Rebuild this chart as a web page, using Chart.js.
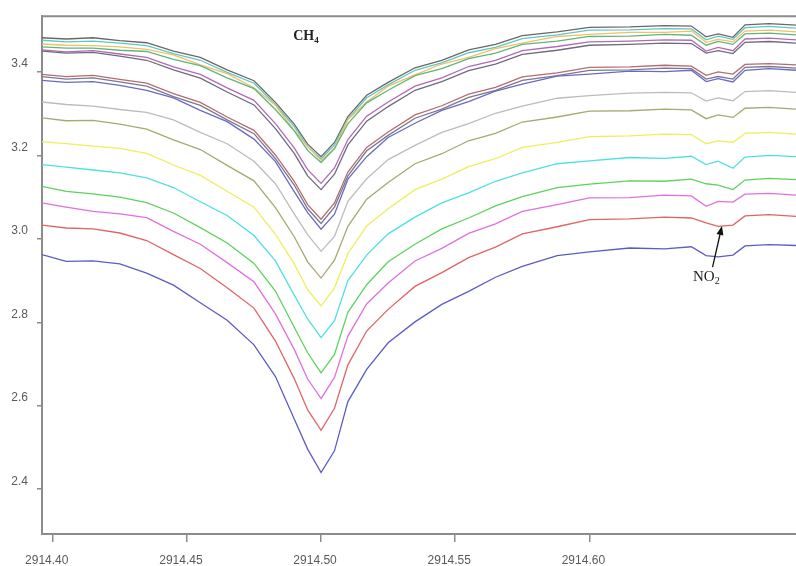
<!DOCTYPE html>
<html>
<head>
<meta charset="utf-8">
<script src="https://cdn.jsdelivr.net/npm/chart.js@4.4.0/dist/chart.umd.min.js"></script>
<style>
  html, body { margin: 0; padding: 0; background: #fff; }
  #wrap { width: 796px; height: 566px; position: relative; }
</style>
</head>
<body>
<div id="wrap"><canvas id="spectrum"></canvas></div>
<script>
var ctx = document.getElementById('spectrum').getContext('2d');

/* wavenumber grid (cm-1) */
const waveNumbers = [2914.396, 2914.405, 2914.415, 2914.425, 2914.435, 2914.445, 2914.455, 2914.465, 2914.475, 2914.483, 2914.490, 2914.495, 2914.500, 2914.505, 2914.510, 2914.517, 2914.525, 2914.535, 2914.545, 2914.555, 2914.565, 2914.575, 2914.588, 2914.600, 2914.615, 2914.628, 2914.638, 2914.6435, 2914.648, 2914.6535, 2914.658, 2914.667, 2914.677];

/* spectra, bottom to top */
const curveBlue = [2.962, 2.946, 2.947, 2.940, 2.918, 2.889, 2.847, 2.805, 2.746, 2.670, 2.568, 2.496, 2.440, 2.492, 2.610, 2.687, 2.751, 2.801, 2.843, 2.874, 2.908, 2.934, 2.960, 2.969, 2.978, 2.976, 2.981, 2.960, 2.957, 2.961, 2.983, 2.986, 2.984];
const curveRed = [3.033, 3.026, 3.024, 3.014, 2.996, 2.962, 2.929, 2.883, 2.834, 2.755, 2.665, 2.590, 2.541, 2.594, 2.698, 2.779, 2.831, 2.886, 2.919, 2.955, 2.980, 3.012, 3.029, 3.046, 3.048, 3.052, 3.050, 3.038, 3.030, 3.033, 3.055, 3.058, 3.054];
const curveMagenta = [3.086, 3.076, 3.066, 3.060, 3.051, 3.018, 2.987, 2.943, 2.897, 2.820, 2.735, 2.664, 2.617, 2.668, 2.767, 2.844, 2.894, 2.947, 2.977, 3.013, 3.036, 3.066, 3.082, 3.098, 3.099, 3.105, 3.103, 3.078, 3.090, 3.088, 3.107, 3.109, 3.105];
const curveGreen = [3.126, 3.114, 3.108, 3.100, 3.087, 3.062, 3.027, 2.990, 2.941, 2.875, 2.788, 2.727, 2.679, 2.723, 2.824, 2.890, 2.945, 2.987, 3.024, 3.050, 3.079, 3.101, 3.123, 3.131, 3.139, 3.138, 3.143, 3.132, 3.129, 3.118, 3.141, 3.145, 3.142];
const curveCyan = [3.178, 3.172, 3.165, 3.158, 3.146, 3.123, 3.089, 3.056, 3.008, 2.947, 2.865, 2.808, 2.763, 2.804, 2.900, 2.961, 3.012, 3.052, 3.086, 3.110, 3.138, 3.158, 3.180, 3.187, 3.195, 3.193, 3.198, 3.178, 3.186, 3.169, 3.196, 3.200, 3.197];
const curveYellow = [3.233, 3.228, 3.222, 3.217, 3.205, 3.177, 3.152, 3.114, 3.076, 3.011, 2.940, 2.878, 2.839, 2.882, 2.965, 3.031, 3.072, 3.118, 3.143, 3.173, 3.192, 3.219, 3.231, 3.245, 3.247, 3.251, 3.250, 3.228, 3.235, 3.231, 3.253, 3.255, 3.251];
const curveOlive = [3.290, 3.283, 3.284, 3.275, 3.263, 3.237, 3.214, 3.176, 3.139, 3.075, 3.005, 2.945, 2.906, 2.949, 3.030, 3.095, 3.135, 3.180, 3.204, 3.235, 3.253, 3.280, 3.292, 3.306, 3.307, 3.311, 3.309, 3.288, 3.297, 3.291, 3.313, 3.315, 3.311];
const curveGray = [3.328, 3.322, 3.318, 3.310, 3.303, 3.285, 3.255, 3.228, 3.186, 3.132, 3.060, 3.010, 2.970, 3.006, 3.090, 3.144, 3.190, 3.224, 3.255, 3.276, 3.301, 3.318, 3.337, 3.343, 3.349, 3.351, 3.350, 3.330, 3.338, 3.331, 3.353, 3.355, 3.351];
const curveBlue2 = [3.380, 3.375, 3.377, 3.368, 3.356, 3.338, 3.308, 3.281, 3.239, 3.185, 3.113, 3.063, 3.023, 3.059, 3.143, 3.197, 3.243, 3.277, 3.308, 3.329, 3.354, 3.371, 3.390, 3.395, 3.402, 3.401, 3.404, 3.377, 3.384, 3.376, 3.404, 3.408, 3.404];
const curveSlate = [3.389, 3.383, 3.386, 3.376, 3.366, 3.341, 3.320, 3.285, 3.252, 3.192, 3.129, 3.072, 3.037, 3.076, 3.151, 3.211, 3.248, 3.289, 3.311, 3.339, 3.356, 3.380, 3.391, 3.404, 3.405, 3.409, 3.408, 3.383, 3.389, 3.383, 3.411, 3.413, 3.409];
const curveBrown = [3.394, 3.389, 3.392, 3.382, 3.373, 3.348, 3.327, 3.292, 3.260, 3.201, 3.138, 3.082, 3.047, 3.086, 3.160, 3.219, 3.256, 3.297, 3.319, 3.347, 3.363, 3.388, 3.398, 3.411, 3.412, 3.416, 3.414, 3.392, 3.400, 3.395, 3.418, 3.420, 3.417];
const curveDarkGray2 = [3.450, 3.445, 3.447, 3.438, 3.428, 3.405, 3.385, 3.352, 3.321, 3.264, 3.205, 3.151, 3.118, 3.155, 3.225, 3.282, 3.317, 3.356, 3.377, 3.403, 3.419, 3.442, 3.452, 3.464, 3.466, 3.469, 3.468, 3.445, 3.451, 3.444, 3.471, 3.473, 3.469];
const curvePurple = [3.453, 3.448, 3.451, 3.443, 3.435, 3.412, 3.394, 3.362, 3.332, 3.276, 3.218, 3.166, 3.133, 3.170, 3.238, 3.294, 3.328, 3.366, 3.386, 3.413, 3.428, 3.451, 3.461, 3.472, 3.474, 3.477, 3.476, 3.450, 3.459, 3.451, 3.479, 3.481, 3.477];
const curveGreen2 = [3.460, 3.457, 3.457, 3.452, 3.449, 3.430, 3.415, 3.386, 3.360, 3.310, 3.259, 3.212, 3.183, 3.216, 3.276, 3.326, 3.356, 3.391, 3.408, 3.432, 3.445, 3.466, 3.474, 3.485, 3.486, 3.490, 3.488, 3.464, 3.473, 3.466, 3.491, 3.493, 3.489];
const curveOrange = [3.467, 3.464, 3.463, 3.460, 3.454, 3.441, 3.417, 3.396, 3.362, 3.320, 3.260, 3.221, 3.188, 3.217, 3.286, 3.328, 3.366, 3.393, 3.419, 3.435, 3.456, 3.469, 3.485, 3.490, 3.495, 3.495, 3.498, 3.471, 3.478, 3.472, 3.498, 3.500, 3.496];
const curveTeal = [3.476, 3.472, 3.474, 3.469, 3.463, 3.444, 3.428, 3.399, 3.373, 3.322, 3.269, 3.221, 3.192, 3.225, 3.287, 3.338, 3.369, 3.404, 3.422, 3.446, 3.459, 3.480, 3.489, 3.500, 3.501, 3.504, 3.503, 3.477, 3.486, 3.478, 3.506, 3.509, 3.505];
const curveDarkGray = [3.482, 3.479, 3.482, 3.475, 3.470, 3.450, 3.435, 3.405, 3.379, 3.327, 3.275, 3.227, 3.197, 3.231, 3.293, 3.344, 3.375, 3.410, 3.428, 3.453, 3.466, 3.487, 3.496, 3.507, 3.508, 3.511, 3.510, 3.484, 3.491, 3.483, 3.513, 3.516, 3.512];

const xTicks = [2914.40, 2914.45, 2914.50, 2914.55, 2914.60];
const yTicks = [2.4, 2.6, 2.8, 3.0, 3.2, 3.4];

const allCurves = [curveBlue, curveRed, curveMagenta, curveGreen, curveCyan, curveYellow, curveOlive, curveGray,
  curveBlue2, curveSlate, curveBrown, curveDarkGray2, curvePurple, curveGreen2, curveOrange, curveTeal, curveDarkGray];
const colors = ['#5c5cc8', '#e06464', '#e070e0', '#5ed25e', '#4ee0e0', '#eeee5a', '#a8a870', '#bcbcbc',
  '#6a6ac4', '#7a7890', '#b46c70', '#6c6c7c', '#b468b8', '#62b47a', '#f0c066', '#62c6c6', '#686868'];

// label anchors in data units
const ch4Pos = { x: 2914.4896, y: 3.476 };
const no2Pos = { x: 2914.6386, y: 2.899 };
const arrowFrom = { x: 2914.6459, y: 2.932 };
const arrowTo = { x: 2914.6494, y: 3.031 };

const datasets = allCurves.map(function (c, i) {
  return {
    data: c.map(function (v, j) { return { x: waveNumbers[j], y: v }; }),
    borderColor: colors[i],
    borderWidth: 1.3,
    pointRadius: 0,
    tension: 0,
    fill: false
  };
});

const decorations = {
  id: 'decorations',
  afterDraw: function (chart) {
    const c = chart.ctx, a = chart.chartArea, xs = chart.scales.x, ys = chart.scales.y;
    c.save();
    // top frame line
    c.strokeStyle = '#8c8c8c';
    c.lineWidth = 2;
    c.beginPath();
    c.moveTo(a.left, a.top);
    c.lineTo(a.right, a.top);
    c.stroke();

    c.fillStyle = '#222';
    c.textBaseline = 'alphabetic';
    // CH4
    let px = xs.getPixelForValue(ch4Pos.x), py = ys.getPixelForValue(ch4Pos.y);
    c.font = 'bold 14px "Liberation Serif"';
    c.fillText('CH', px, py);
    let w = c.measureText('CH').width;
    c.font = 'bold 9px "Liberation Serif"';
    c.fillText('4', px + w, py + 3);
    // NO2
    px = xs.getPixelForValue(no2Pos.x); py = ys.getPixelForValue(no2Pos.y);
    c.font = '15px "Liberation Serif"';
    c.fillText('NO', px, py);
    w = c.measureText('NO').width;
    c.font = '10px "Liberation Serif"';
    c.fillText('2', px + w, py + 3);

    // arrow
    const x1 = xs.getPixelForValue(arrowFrom.x), y1 = ys.getPixelForValue(arrowFrom.y);
    const x2 = xs.getPixelForValue(arrowTo.x), y2 = ys.getPixelForValue(arrowTo.y);
    const ang = Math.atan2(y2 - y1, x2 - x1);
    c.strokeStyle = '#111';
    c.lineWidth = 1.3;
    c.beginPath();
    c.moveTo(x1, y1);
    c.lineTo(x2 - 6 * Math.cos(ang), y2 - 6 * Math.sin(ang));
    c.stroke();
    c.beginPath();
    c.moveTo(x2, y2);
    c.lineTo(x2 - 9 * Math.cos(ang) + 3.5 * Math.sin(ang), y2 - 9 * Math.sin(ang) - 3.5 * Math.cos(ang));
    c.lineTo(x2 - 9 * Math.cos(ang) - 3.5 * Math.sin(ang), y2 - 9 * Math.sin(ang) + 3.5 * Math.cos(ang));
    c.closePath();
    c.fillStyle = '#111';
    c.fill();
    c.restore();
  }
};

var myChart = new Chart(ctx, {
  type: 'line',
  data: { datasets: datasets },
  plugins: [decorations],
  options: {
    responsive: true,
    maintainAspectRatio: false,
    animation: false,
    layout: { padding: { top: 14, right: 0, left: 0, bottom: 0 } },
    plugins: { legend: { display: false }, tooltip: { enabled: false } },
    scales: {
      x: {
        type: 'linear',
        min: 2914.396,
        max: 2914.677,
        afterBuildTicks: function (scale) { scale.ticks = xTicks.map(function (v) { return { value: v }; }); },
        afterFit: function (scale) { scale.height = 32; },
        border: { display: true, color: '#8c8c8c', width: 2 },
        grid: { drawOnChartArea: false, color: '#8c8c8c', tickLength: 8, lineWidth: 1.5 },
        ticks: {
          color: '#5a5a5a',
          font: { family: 'Arial, "Liberation Sans"', size: 12 },
          padding: 11,
          labelOffset: -6,
          maxRotation: 0,
          autoSkip: false,
          callback: function (v) { return v.toFixed(2); }
        }
      },
      y: {
        min: 2.2926,
        max: 3.5336,
        afterBuildTicks: function (scale) { scale.ticks = yTicks.map(function (v) { return { value: v }; }); },
        afterFit: function (scale) { scale.width = 42; },
        border: { display: true, color: '#8c8c8c', width: 2 },
        grid: { drawOnChartArea: false, color: '#8c8c8c', tickLength: 5, lineWidth: 1.5 },
        ticks: {
          color: '#5a5a5a',
          font: { family: 'Arial, "Liberation Sans"', size: 12 },
          padding: 9,
          labelOffset: -8,
          autoSkip: false,
          callback: function (v) { return v.toFixed(1); }
        }
      }
    }
  }
});
</script>
</body>
</html>
